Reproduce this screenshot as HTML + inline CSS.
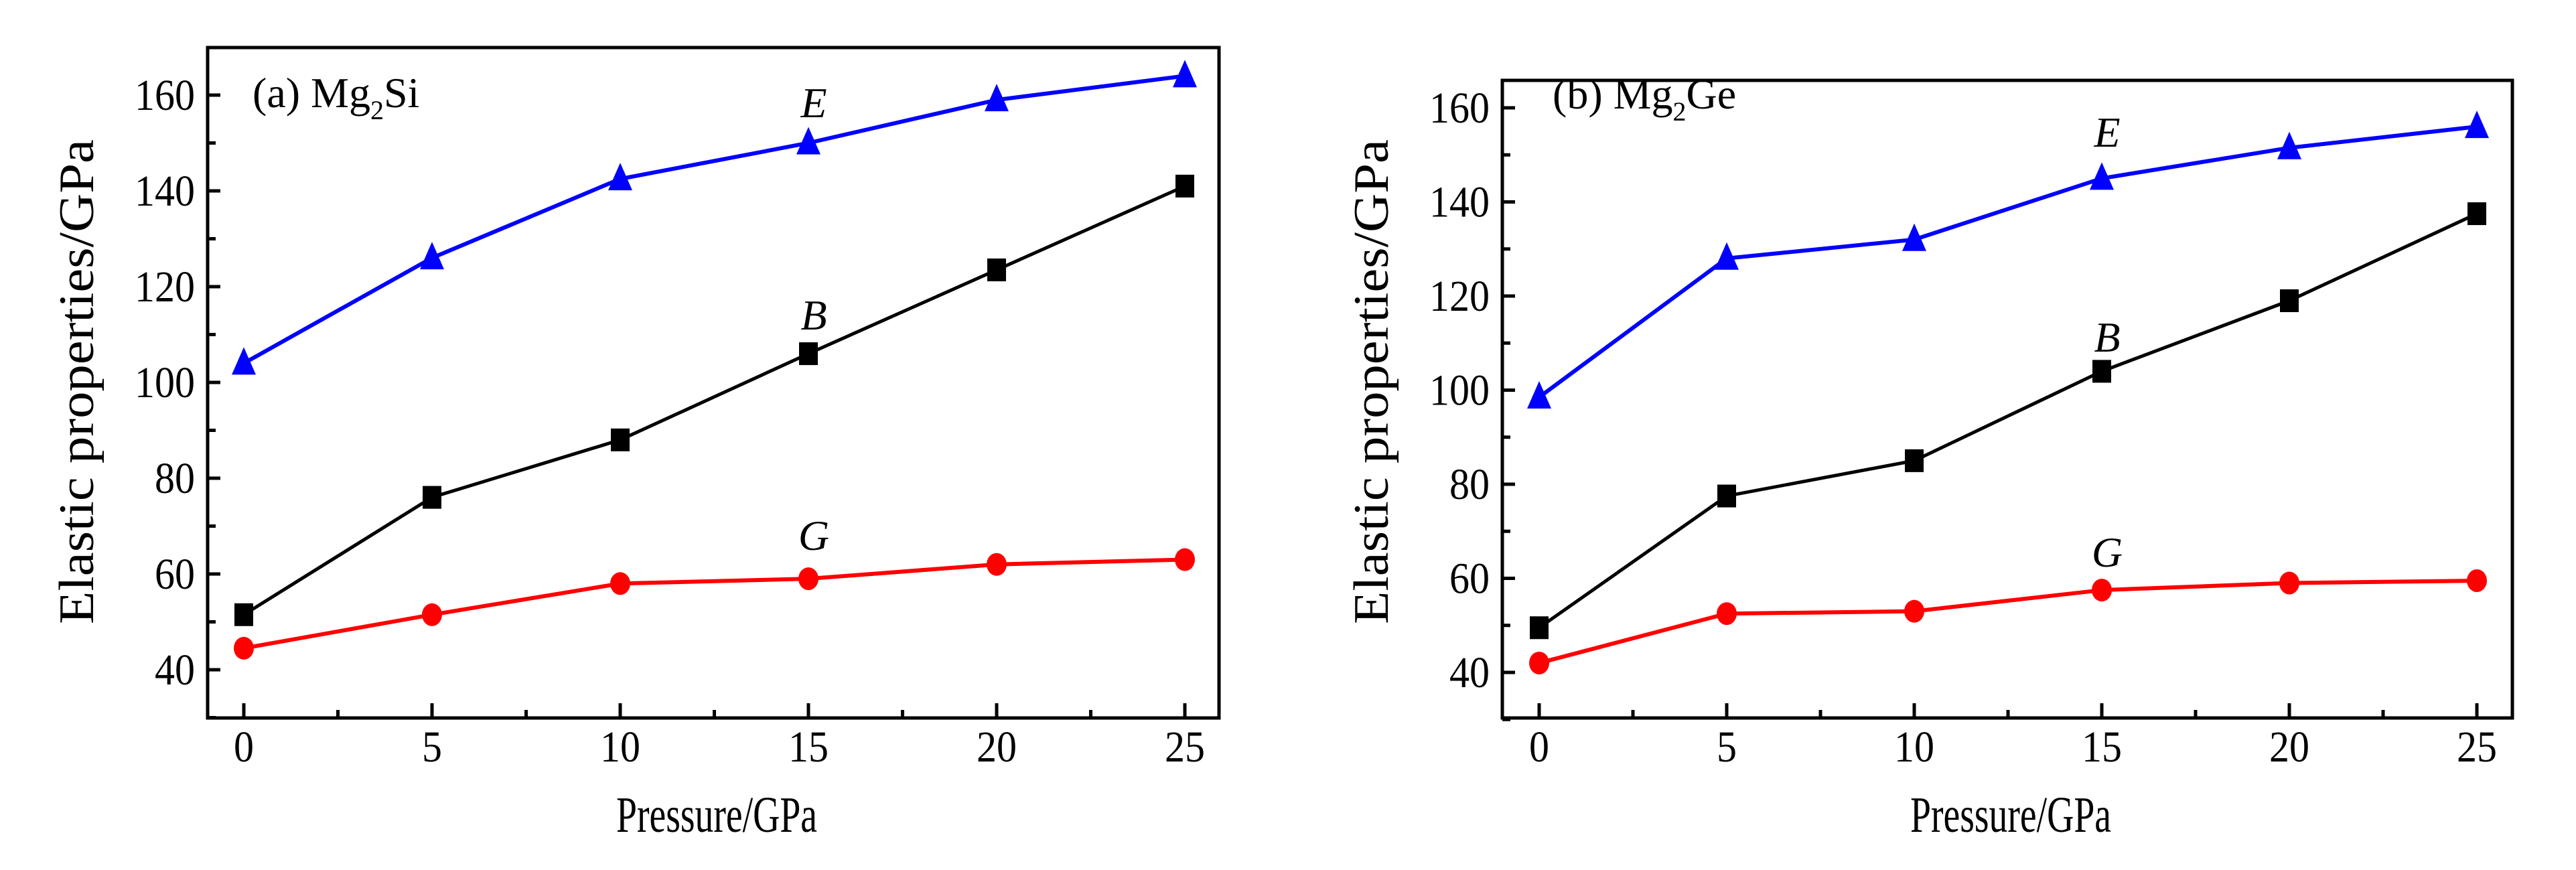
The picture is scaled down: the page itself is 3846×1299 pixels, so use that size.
<!DOCTYPE html>
<html><head><meta charset="utf-8"><style>
html,body{margin:0;padding:0;background:#fff}
svg{display:block}
svg text{font-family:"Liberation Serif","DejaVu Serif",serif;fill:#000}
</style></head><body>
<svg id="fig" width="3846" height="1299" viewBox="0 0 3846 1299" xmlns="http://www.w3.org/2000/svg" font-family="'Liberation Serif', 'DejaVu Serif', serif"></svg>
<script>
const pressures = [0, 5, 10, 15, 20, 25];
const xTicks = [0, 5, 10, 15, 20, 25];
const yTicks = [40, 60, 80, 100, 120, 140, 160];
const siE = [104, 126, 142.5, 150, 159, 164];
const siB = [51.5, 76, 88, 106, 123.5, 141];
const siG = [44.5, 51.5, 58, 59, 62, 63];
const geE = [98.5, 128, 132, 145, 151.5, 156];
const geB = [49.5, 77.5, 85, 104, 119, 137.5];
const geG = [42, 52.5, 53, 57.5, 59, 59.5];

const NS = "http://www.w3.org/2000/svg";
const svg = document.getElementById('fig');
const FF = "'Liberation Serif', 'DejaVu Serif', serif";
function mk(tag, attrs, parent){const e=document.createElementNS(NS,tag);for(const k in attrs)e.setAttribute(k,attrs[k]);if(tag==='text')e.setAttribute('font-family',FF);(parent||svg).appendChild(e);return e;}

const panels = [
 {id:'a', left:310, right:1820, top:71, bottom:1072, x0:364, xs:56.2, y160:142, ys:7.15, titleX:115,
  label:['(a) Mg','2','Si'], labelX:377, labelY:160,
  series:[{d:siE,c:'#0000ff',m:'tri',n:'E',ly:175},{d:siB,c:'#000',m:'sq',n:'B',ly:492},{d:siG,c:'#ff0000',m:'circ',n:'G',ly:821}]},
 {id:'b', left:2243, right:3751, top:120, bottom:1072, x0:2298, xs:56.0, y160:161, ys:7.025, titleX:2048,
  label:['(b) Mg','2','Ge'], labelX:2318, labelY:162,
  series:[{d:geE,c:'#0000ff',m:'tri',n:'E',ly:219},{d:geB,c:'#000',m:'sq',n:'B',ly:525},{d:geG,c:'#ff0000',m:'circ',n:'G',ly:846}]}
];

panels.forEach(p=>{
  const X=v=>p.x0+v*p.xs, Y=v=>p.y160+(160-v)*p.ys;
  const g=mk('g',{});
  
  
  const fr=mk('rect',{x:p.left,y:p.top,width:p.right-p.left,height:p.bottom-p.top,fill:'none',stroke:'#000','stroke-width':5},g);
  
  
  for(let v=0;v<=25;v+=2.5){
    const major=v%5===0;
    const t=mk('line',{x1:X(v),x2:X(v),y1:p.bottom,y2:p.bottom-(major?22:12),stroke:'#000','stroke-width':5},g);
    
    
  }
  xTicks.forEach(v=>{
    const s=String(v);
    const t=mk('text',{x:X(v),y:1137,'font-size':66,'text-anchor':'middle',textLength:s.length*30,lengthAdjust:'spacingAndGlyphs'},g);
    t.textContent=s;
    
    
  });
  for(let v=30;v<=160;v+=10){
    const major=v%20===0;
    const t=mk('line',{x1:p.left,x2:p.left+(major?19:12),y1:Y(v),y2:Y(v),stroke:'#000','stroke-width':5},g);
    
    
  }
  yTicks.forEach(v=>{
    const s=String(v);
    const t=mk('text',{x:p.left-19,y:Y(v)+22,'font-size':66,'text-anchor':'end',textLength:s.length*30,lengthAdjust:'spacingAndGlyphs'},g);
    t.textContent=s;
    
    
  });
  const yt=mk('text',{x:0,y:0,'font-size':74,'text-anchor':'middle',transform:`translate(${p.titleX+24},570) rotate(-90)`,textLength:724,lengthAdjust:'spacingAndGlyphs'},g);
  yt.textContent='Elastic properties/GPa';
  
  
  const xt=mk('text',{x:(p.left+p.right)/2+5,y:1242,'font-size':76,'text-anchor':'middle',textLength:300,lengthAdjust:'spacingAndGlyphs'},g);
  xt.textContent='Pressure/GPa';
  
  
  const pl=mk('text',{x:p.labelX,y:p.labelY,'font-size':64},g);
  
  
  const t1=mk('tspan',{},pl);t1.textContent=p.label[0];
  const t2=mk('tspan',{'font-size':40,dy:18},pl);t2.textContent=p.label[1];
  const t3=mk('tspan',{dy:-18},pl);t3.textContent=p.label[2];
  p.series.forEach(s=>{
    const sg=mk('g',{},g);
    
    
    const pts=s.d.map((v,i)=>X(pressures[i])+','+Y(v)).join(' ');
    const ln=mk('polyline',{points:pts,fill:'none',stroke:s.c,'stroke-width':s.c==='#000'?5:6},sg);
    
    
    s.d.forEach((v,i)=>{
      const cx=X(pressures[i]), cy=Y(v);
      let m;
      if(s.m==='tri') m=mk('polygon',{points:`${cx-18},${cy+17} ${cx+18},${cy+17} ${cx},${cy-24}`,fill:s.c},sg);
      else if(s.m==='sq') m=mk('rect',{x:cx-14,y:cy-17,width:28,height:34,fill:s.c},sg);
      else m=mk('ellipse',{cx:cx,cy:cy,rx:15,ry:17,fill:s.c},sg);
      
      
    });
    const lb=mk('text',{x:X(15)+8,y:s.ly,'font-size':64,'font-style':'italic','text-anchor':'middle'},sg);
    lb.textContent=s.n;
    
    
  });
});
</script>
</body></html>
